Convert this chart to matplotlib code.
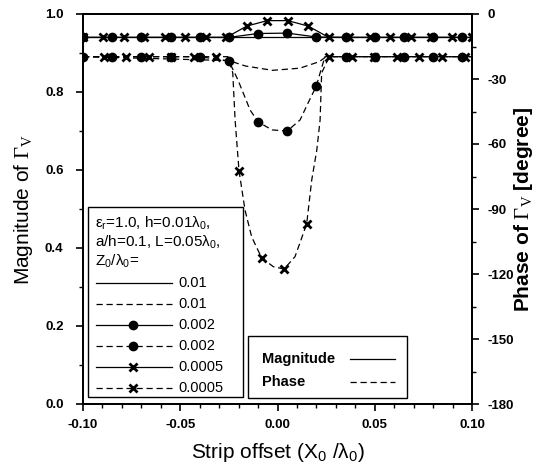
import matplotlib
matplotlib.use("Agg")
import matplotlib.pyplot as plt
from matplotlib.lines import Line2D
from matplotlib.patches import Rectangle
from matplotlib.ticker import MultipleLocator, FormatStrFormatter

plt.rcParams['font.family'] = ['Liberation Sans', 'DejaVu Sans']
plt.rcParams['axes.unicode_minus'] = False
plt.rcParams['mathtext.fontset'] = 'custom'
plt.rcParams['mathtext.rm'] = 'Liberation Sans'
plt.rcParams['mathtext.it'] = 'Liberation Sans'
plt.rcParams['mathtext.bf'] = 'Liberation Sans:bold'
plt.rcParams['mathtext.sf'] = 'Liberation Serif'

# ---------------- data ----------------
# Magnitude, Z0/lambda0 = 0.01 (solid, no marker)
mag_001_x = [-0.100, 0.100]
mag_001_y = [0.940, 0.940]

# Magnitude, Z0/lambda0 = 0.002 (solid, dots)
mag_002_x = [-0.100, -0.085, -0.070, -0.055, -0.040, -0.025, -0.010, 0.005,
             0.020, 0.035, 0.050, 0.065, 0.080, 0.095]
mag_002_y = [0.940, 0.940, 0.940, 0.940, 0.940, 0.940, 0.950, 0.951,
             0.941, 0.940, 0.940, 0.940, 0.940, 0.940]

# Magnitude, Z0/lambda0 = 0.0005 (solid, crosses)
mag_0005_x = [-0.1000, -0.0895, -0.0789, -0.0684, -0.0579, -0.0474, -0.0368,
              -0.0263, -0.0158, -0.0053, 0.0053, 0.0158, 0.0263, 0.0368,
              0.0474, 0.0579, 0.0684, 0.0789, 0.0895, 0.1000]
mag_0005_y = [0.940, 0.940, 0.940, 0.940, 0.940, 0.940, 0.940,
              0.940, 0.969, 0.983, 0.983, 0.969, 0.940, 0.940,
              0.940, 0.940, 0.940, 0.940, 0.940, 0.940]

# Phase (degree), Z0/lambda0 = 0.01 (dashed, no marker)
ph_001_x = [-0.100, -0.025, -0.0165, -0.0025, 0.0115, 0.0215, 0.025, 0.100]
ph_001_y = [-19.7, -21.5, -24.0, -26.0, -25.0, -22.0, -19.7, -19.7]

# Phase, Z0/lambda0 = 0.002 (dashed, dots)
ph_002_x = [-0.100, -0.085, -0.070, -0.055, -0.040, -0.025, -0.0203, -0.0141,
            -0.010, -0.0028, 0.005, 0.0116, 0.0157, 0.020, 0.0219, 0.0244,
            0.035, 0.050, 0.065, 0.080, 0.095, 0.100]
ph_002_y = [-19.7, -19.7, -19.7, -19.7, -19.7, -21.7, -30.5, -44.3,
            -49.8, -53.5, -54.0, -48.9, -41.1, -33.2, -27.2, -19.7,
            -19.7, -19.7, -19.7, -19.7, -19.7, -19.7]
ph_002_marks = [0, 1, 2, 3, 4, 5, 8, 10, 13, 16, 17, 18, 19, 20]

# Phase, Z0/lambda0 = 0.0005 (dashed, crosses)
ph_0005_x = [-0.100, -0.0894, -0.0778, -0.0662, -0.0546, -0.0430, -0.0314,
             -0.0255, -0.0230, -0.0218, -0.0198, -0.0167, -0.0133, -0.0082,
             -0.0022, 0.0034, 0.0090, 0.0150, 0.0176, 0.0202, 0.0219, 0.0227,
             0.0266, 0.0382, 0.0498, 0.0614, 0.0730, 0.0846, 0.0962, 0.100]
ph_0005_y = [-19.7, -19.7, -19.7, -19.7, -19.7, -19.7, -19.7,
             -19.7, -27.2, -48.9, -72.3, -90.5, -102.8, -112.5,
             -116.6, -117.7, -112.0, -96.9, -76.6, -62.8, -48.9, -27.2,
             -19.7, -19.7, -19.7, -19.7, -19.7, -19.7, -19.7, -19.7]
ph_0005_marks = [1, 2, 3, 4, 5, 6, 10, 13, 15, 17, 22, 23, 24, 25, 26, 27, 28]

legend_labels = ['0.01', '0.01', '0.002', '0.002', '0.0005', '0.0005']

# ---------------- figure ----------------
W, H = 545, 470
fig = plt.figure(figsize=(W / 100, H / 100), dpi=100)
L, R, T, B = 83, 472, 14, 404
ax = fig.add_axes([L / W, 1 - B / H, (R - L) / W, (B - T) / H])
ax2 = ax.twinx()

lw = 0.9
dash = (0, (5, 3))
dotkw = dict(marker='o', ms=6, mfc='black', mec='black')
xkw = dict(marker='x', ms=6, mew=2, mec='black')

ax.plot(mag_001_x, mag_001_y, color='black', lw=lw, ls='-')
ax.plot(mag_002_x, mag_002_y, color='black', lw=lw, ls='-', **dotkw)
ax.plot(mag_0005_x, mag_0005_y, color='black', lw=lw, ls='-', **xkw)

ax2.plot(ph_001_x, ph_001_y, color='black', lw=lw, ls=dash)
ax2.plot(ph_002_x, ph_002_y, color='black', lw=lw, ls=dash,
         markevery=ph_002_marks, **dotkw)
ax2.plot(ph_0005_x, ph_0005_y, color='black', lw=lw, ls=dash,
         markevery=ph_0005_marks, **xkw)

ax.set_xlim(-0.10, 0.10)
ax.set_ylim(0.0, 1.0)
ax2.set_ylim(-180, 0)

ax.xaxis.set_major_locator(MultipleLocator(0.05))
ax.xaxis.set_minor_locator(MultipleLocator(0.01))
ax.xaxis.set_major_formatter(FormatStrFormatter('%.2f'))
ax.yaxis.set_major_locator(MultipleLocator(0.2))
ax.yaxis.set_minor_locator(MultipleLocator(0.1))
ax.yaxis.set_major_formatter(FormatStrFormatter('%.1f'))
ax2.yaxis.set_major_locator(MultipleLocator(30))
ax2.yaxis.set_minor_locator(MultipleLocator(15))

for a in (ax, ax2):
    for s in a.spines.values():
        s.set_linewidth(1.3)
    a.tick_params(which='major', direction='out', length=5, width=1.2,
                  labelsize=9.5, pad=6)
    a.tick_params(which='minor', direction='out', length=3, width=1.0)
ax.tick_params(axis='y', which='major', pad=9)
ax.tick_params(axis='y', which='both', right=False)
ax.tick_params(axis='x', which='both', top=False)
for lab in ax.get_xticklabels() + ax.get_yticklabels() + ax2.get_yticklabels():
    lab.set_fontweight('bold')

ax.set_xlabel(r'Strip offset (X$_0$ /λ$_0$)', fontsize=15, labelpad=7)
ax.set_ylabel(r'Magnitude of $\mathsf{\Gamma_V}$', fontsize=15, labelpad=7)
ax2.set_ylabel(r'Phase of $\mathsf{\Gamma_V}$ [degree]', fontsize=15,
               fontweight='bold', labelpad=-1)

# ---------- legend 1 (parameters + Z0 entries) ----------
def ax_x(px):
    return (px - L) / (R - L)

def ax_y(py):
    return (B - py) / (B - T)

tr = ax.transAxes
ax.add_patch(Rectangle((ax_x(88), ax_y(397)), ax_x(243) - ax_x(88),
                       ax_y(207) - ax_y(397), transform=tr, fill=False,
                       lw=1.0, ec='black', zorder=5))
fs_leg = 10.5
ax.text(ax_x(95), ax_y(223), r'ε$_r$=1.0, h=0.01λ$_0$,', transform=tr,
        fontsize=11, va='center', ha='left')
ax.text(ax_x(95), ax_y(242), r'a/h=0.1, L=0.05λ$_0$,', transform=tr,
        fontsize=11, va='center', ha='left')
ax.text(ax_x(95), ax_y(261), r'Z$_0$/λ$_0$=', transform=tr,
        fontsize=11, va='center', ha='left')
entry_y = [283, 304, 325, 346, 367, 388]
entry_ls = ['-', dash, '-', dash, '-', dash]
entry_mk = [None, None, dotkw, dotkw, xkw, xkw]
for yy, ls, mk, lab in zip(entry_y, entry_ls, entry_mk, legend_labels):
    ax.add_line(Line2D([ax_x(96), ax_x(172)], [ax_y(yy), ax_y(yy)],
                       transform=tr, color='black', lw=lw, ls=ls))
    if mk is not None:
        ax.add_line(Line2D([ax_x(133)], [ax_y(yy)], transform=tr,
                           color='black', ls='none', **mk))
    ax.text(ax_x(178), ax_y(yy), lab, transform=tr, fontsize=fs_leg,
            va='center', ha='left')

# ---------- legend 2 (line style key) ----------
ax.add_patch(Rectangle((ax_x(248), ax_y(398)), ax_x(407) - ax_x(248),
                       ax_y(336) - ax_y(398), transform=tr, fill=False,
                       lw=1.0, ec='black', zorder=5))
ax.text(ax_x(262), ax_y(359), 'Magnitude', transform=tr, fontsize=10.5,
        fontweight='bold', va='center', ha='left')
ax.text(ax_x(262), ax_y(382), 'Phase', transform=tr, fontsize=10.5,
        fontweight='bold', va='center', ha='left')
ax.add_line(Line2D([ax_x(350), ax_x(395)], [ax_y(359), ax_y(359)],
                   transform=tr, color='black', lw=lw, ls='-'))
ax.add_line(Line2D([ax_x(350), ax_x(395)], [ax_y(382), ax_y(382)],
                   transform=tr, color='black', lw=lw, ls=dash))

fig.savefig('out.png', dpi=100)
